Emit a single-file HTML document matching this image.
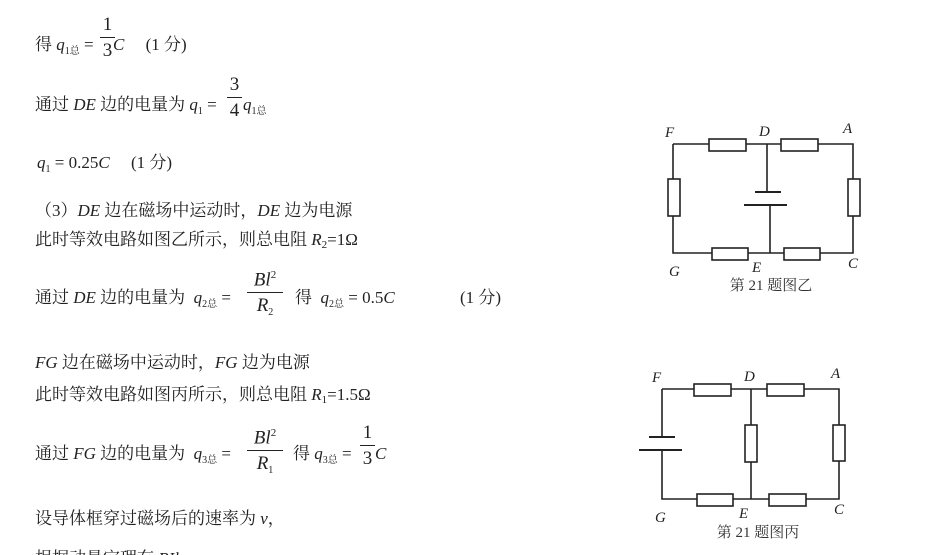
<!DOCTYPE html>
<html><head><meta charset="utf-8"><style>
body{margin:0;background:#fff;}
#c{position:relative;width:940px;height:555px;overflow:hidden;background:#fff;font-family:"Liberation Serif","Noto Serif CJK SC",serif;font-size:17px;color:#222;}
.t{position:absolute;white-space:nowrap;line-height:20px;}
i{font-style:italic;}
sub{font-size:10px;vertical-align:-4px;}
.fr{position:absolute;text-align:center;line-height:22px;font-size:19px;}
.fr .n{border-bottom:1px solid #222;padding:0 1px 1px;}
.fr .d{padding-top:2px;}
</style></head><body><div id="c">
<div class="t" style="left:35px;top:35px">得 <i>q</i><sub>1总</sub> =</div>
<div class="fr" style="left:100px;top:14px;width:15px"><div class="n">1</div><div class="d">3</div></div>
<div class="t" style="left:113px;top:35px"><i>C</i>&nbsp;&nbsp;&nbsp;&nbsp; (1 分)</div>
<div class="t" style="left:35px;top:95px">通过 <i>DE</i> 边的电量为 <i>q</i><sub>1</sub> =</div>
<div class="fr" style="left:227px;top:74px;width:15px"><div class="n">3</div><div class="d">4</div></div>
<div class="t" style="left:243px;top:95px"><i>q</i><sub>1总</sub></div>
<div class="t" style="left:37px;top:153px"><i>q</i><sub>1</sub> = 0.25<i>C</i>&nbsp;&nbsp;&nbsp;&nbsp; (1 分)</div>
<div class="t" style="left:35px;top:201px">（3）<i>DE</i> 边在磁场中运动时，<i>DE</i> 边为电源</div>
<div class="t" style="left:35px;top:230px">此时等效电路如图乙所示，则总电阻 <i>R</i><sub style="font-size:11px;vertical-align:-3px">2</sub>=1Ω</div>
<div class="t" style="left:35px;top:288px">通过 <i>DE</i> 边的电量为&nbsp;&nbsp;<i>q</i><sub>2总</sub> =</div>
<div class="fr" style="left:247px;top:264px;width:36px"><div class="n"><i>Bl</i><sup style="font-size:11px">2</sup></div><div class="d"><i>R</i><sub>2</sub></div></div>
<div class="t" style="left:295px;top:288px">得&nbsp;&nbsp;<i>q</i><sub>2总</sub> = 0.5<i>C</i></div>
<div class="t" style="left:460px;top:288px">(1 分)</div>
<div class="t" style="left:35px;top:353px"><i>FG</i> 边在磁场中运动时，<i>FG</i> 边为电源</div>
<div class="t" style="left:35px;top:385px">此时等效电路如图丙所示，则总电阻 <i>R</i><sub style="font-size:11px;vertical-align:-3px">1</sub>=1.5Ω</div>
<div class="t" style="left:35px;top:444px">通过 <i>FG</i> 边的电量为&nbsp;&nbsp;<i>q</i><sub>3总</sub> =</div>
<div class="fr" style="left:247px;top:422px;width:36px"><div class="n"><i>Bl</i><sup style="font-size:11px">2</sup></div><div class="d"><i>R</i><sub>1</sub></div></div>
<div class="t" style="left:293px;top:444px">得 <i>q</i><sub>3总</sub> =</div>
<div class="fr" style="left:360px;top:422px;width:15px"><div class="n">1</div><div class="d">3</div></div>
<div class="t" style="left:375px;top:444px"><i>C</i></div>
<div class="t" style="left:35px;top:509px">设导体框穿过磁场后的速率为 <i>v</i>，</div>
<div class="t" style="left:35px;top:549px">根据动量定理有 <i>BIl</i></div>

<svg width="940" height="555" style="position:absolute;left:0;top:0" stroke="#222" stroke-width="1.6" fill="none">
<path d="M673 144H709M746 144H781M818 144H853V179M853 216V253H820M784 253H748M712 253H673V216M673 179V144M767 144V192M770 205V253"/>
<rect x="709" y="139" width="37" height="12" fill="#fff"/>
<rect x="781" y="139" width="37" height="12" fill="#fff"/>
<rect x="712" y="248" width="36" height="12" fill="#fff"/>
<rect x="784" y="248" width="36" height="12" fill="#fff"/>
<rect x="668" y="179" width="12" height="37" fill="#fff"/>
<rect x="848" y="179" width="12" height="37" fill="#fff"/>
<path d="M755 192H781M744 205H787" stroke-width="2"/>
<path d="M662 389H694M731 389H767M804 389H839V425M839 461V499H806M769 499H733M697 499H662V450M662 437V389M751 389V425M751 462V499"/>
<rect x="694" y="384" width="37" height="12" fill="#fff"/>
<rect x="767" y="384" width="37" height="12" fill="#fff"/>
<rect x="697" y="494" width="36" height="12" fill="#fff"/>
<rect x="769" y="494" width="37" height="12" fill="#fff"/>
<rect x="745" y="425" width="12" height="37" fill="#fff"/>
<rect x="833" y="425" width="12" height="36" fill="#fff"/>
<path d="M649 437H675M639 450H682" stroke-width="2"/>
<g stroke="none" fill="#222" font-family="Liberation Serif,serif" font-style="italic" font-size="15">
<text x="665" y="137">F</text><text x="759" y="136">D</text><text x="843" y="133">A</text>
<text x="669" y="276">G</text><text x="752" y="272">E</text><text x="848" y="268">C</text>
<text x="652" y="382">F</text><text x="744" y="381">D</text><text x="831" y="378">A</text>
<text x="655" y="522">G</text><text x="739" y="518">E</text><text x="834" y="514">C</text>
</g>
<g stroke="none" fill="#333" font-family="Liberation Serif,Noto Serif CJK SC,serif" font-size="15" text-anchor="middle">
<text x="771" y="290">第 21 题图乙</text>
<text x="758" y="537">第 21 题图丙</text>
</g>
</svg>
</div></body></html>
